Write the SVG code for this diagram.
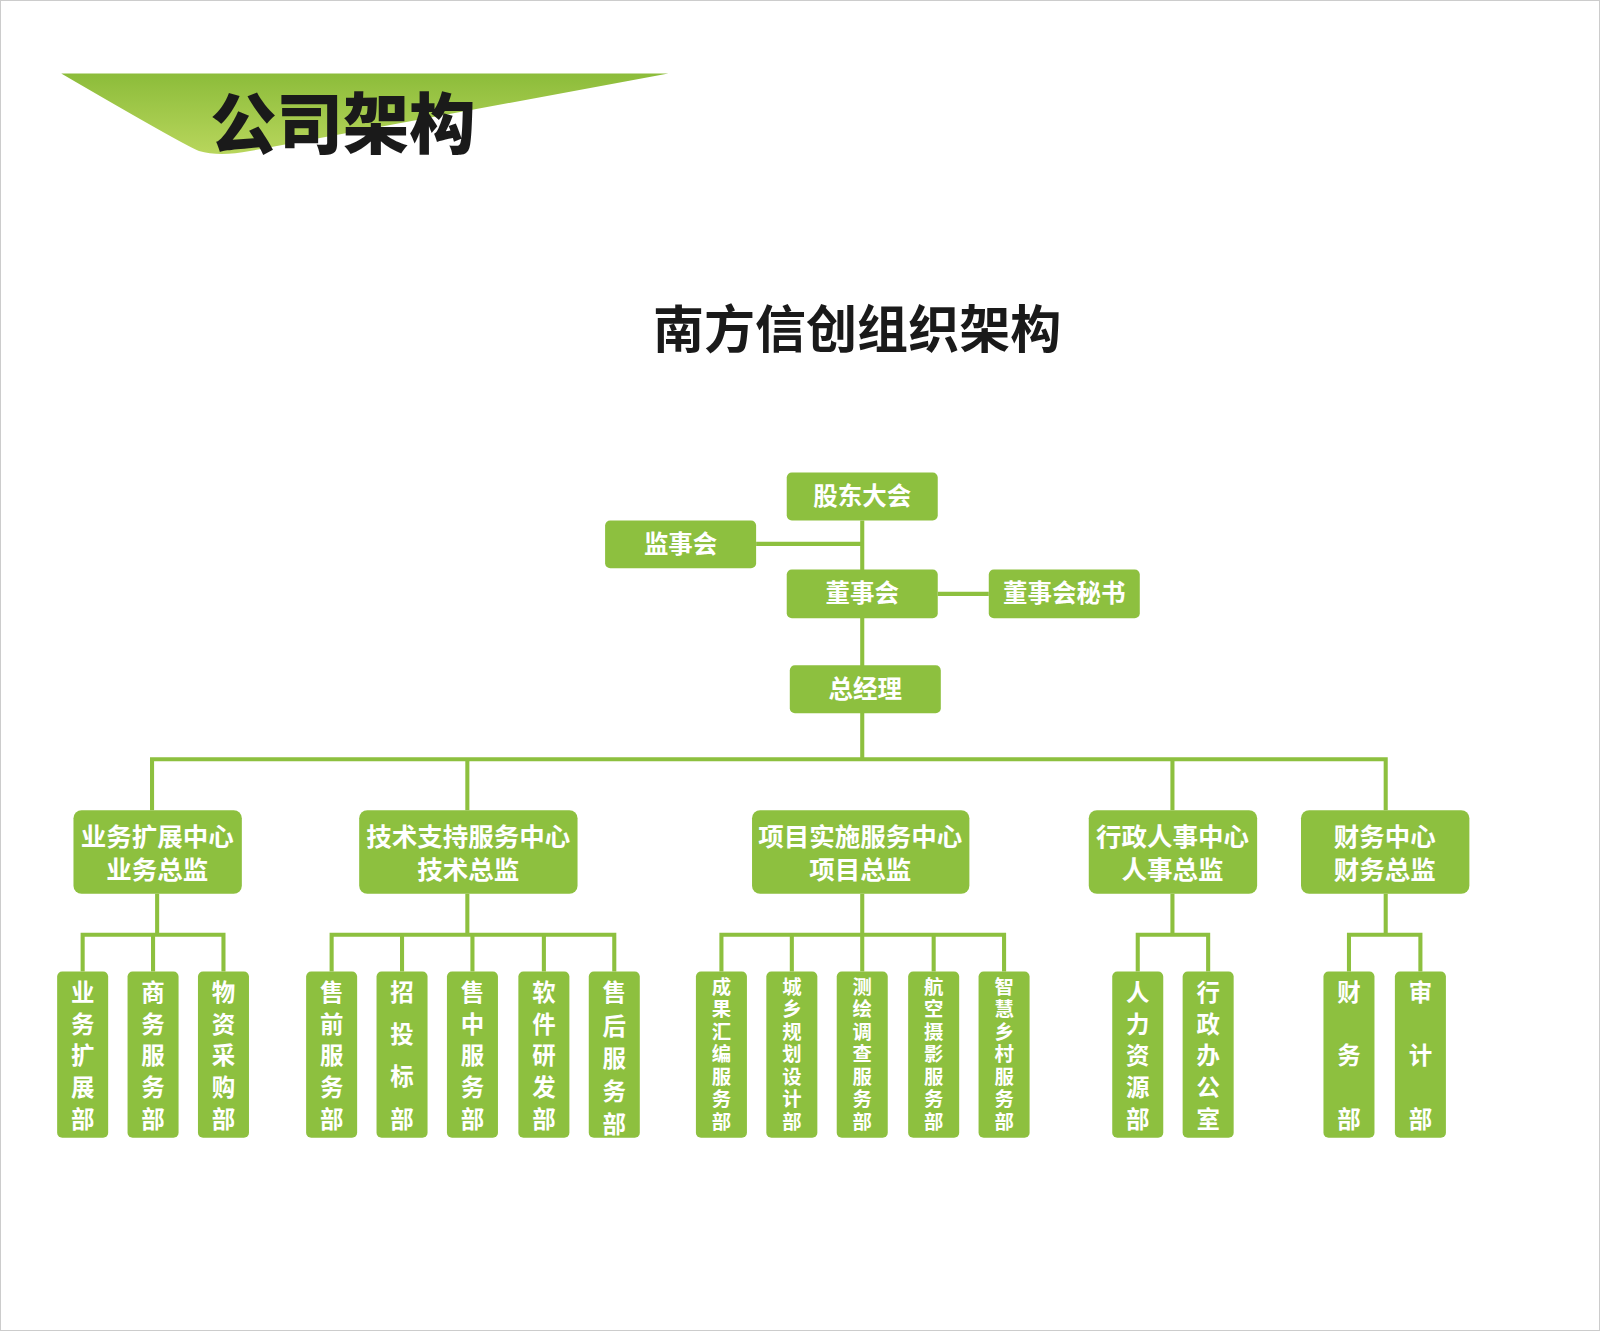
<svg xmlns="http://www.w3.org/2000/svg" width="1600" height="1331" viewBox="0 0 1600 1331">
<defs>
<linearGradient id="hg" x1="0" y1="0" x2="0" y2="1"><stop offset="0" stop-color="#8cbc3a"/><stop offset="1" stop-color="#b8d65c"/></linearGradient>
<style>
.b{fill:#8dc03f}
.l{stroke:#8dc03f;stroke-width:4;fill:none}
.t{font-family:"Noto Sans CJK SC",sans-serif;font-weight:bold;fill:#fff;text-anchor:middle}
.m{font-size:24px}
.w{font-size:25px}
.v{font-size:23px}
.s{font-size:19px}
</style>
</defs>
<rect x="0" y="0" width="1600" height="1331" fill="#fff" stroke="#ccc" stroke-width="2"/>
<g transform="scale(1.0204)">
<g id="header">
<path d="M60,72 L655,72 L245,148 Q215,154 195,148 Q180,142 60,72 Z" fill="url(#hg)"/>
<text x="336" y="145" font-family="Noto Sans CJK SC,sans-serif" font-weight="900" font-size="65" fill="#1a1a1a" text-anchor="middle">公司架构</text>
</g>
<text id="title" x="840" y="341" font-family="Noto Sans CJK SC,sans-serif" font-weight="bold" font-size="50" fill="#1a1a1a" text-anchor="middle">南方信创组织架构</text>
<g id="connectors" class="l">
<path d="M845,510 V744 M741,533 H845 M919,582 H969 M149,794 V744 H1358 V794 M458,744 V794 M1149,744 V794"/>
<path d="M154,876 V916 M81,952 V916 H219 V952 M150,916 V952"/>
<path d="M458,876 V916 M325,952 V916 H602 V952 M394,916 V952 M463,916 V952 M533,916 V952"/>
<path d="M845,876 V916 M707,952 V916 H984 V952 M776,916 V952 M845,916 V952 M915,916 V952"/>
<path d="M1149,876 V916 M1115,952 V916 H1184 V952"/>
<path d="M1358,876 V916 M1322,952 V916 H1392 V952"/>
</g>
<g id="n1"><rect class="b" x="771" y="463" width="148" height="47" rx="5"/><text class="t m" x="845" y="495">股东大会</text></g>
<g id="n2"><rect class="b" x="593" y="510" width="148" height="47" rx="5"/><text class="t m" x="667" y="542">监事会</text></g>
<g id="n3"><rect class="b" x="771" y="558" width="148" height="48" rx="5"/><text class="t m" x="845" y="590">董事会</text></g>
<g id="n4"><rect class="b" x="969" y="558" width="148" height="48" rx="5"/><text class="t m" x="1043" y="590">董事会秘书</text></g>
<g id="n5"><rect class="b" x="774" y="652" width="148" height="47" rx="5"/><text class="t m" x="848" y="684">总经理</text></g>
<g id="c1"><rect class="b" x="72" y="794" width="165" height="82" rx="8"/><text class="t w" x="154" y="829">业务扩展中心</text><text class="t w" x="154" y="861">业务总监</text></g>
<g id="c2"><rect class="b" x="352" y="794" width="214" height="82" rx="8"/><text class="t w" x="459" y="829">技术支持服务中心</text><text class="t w" x="459" y="861">技术总监</text></g>
<g id="c3"><rect class="b" x="737" y="794" width="213" height="82" rx="8"/><text class="t w" x="843" y="829">项目实施服务中心</text><text class="t w" x="843" y="861">项目总监</text></g>
<g id="c4"><rect class="b" x="1067" y="794" width="165" height="82" rx="8"/><text class="t w" x="1149" y="829">行政人事中心</text><text class="t w" x="1149" y="861">人事总监</text></g>
<g id="c5"><rect class="b" x="1275" y="794" width="165" height="82" rx="8"/><text class="t w" x="1357" y="829">财务中心</text><text class="t w" x="1357" y="861">财务总监</text></g>
<g id="l1"><rect class="b" x="56" y="952" width="50" height="163" rx="5"/><text class="t v"><tspan x="81" y="981">业</tspan><tspan x="81" y="1012">务</tspan><tspan x="81" y="1043">扩</tspan><tspan x="81" y="1074">展</tspan><tspan x="81" y="1105">部</tspan></text></g>
<g id="l2"><rect class="b" x="125" y="952" width="50" height="163" rx="5"/><text class="t v"><tspan x="150" y="981">商</tspan><tspan x="150" y="1012">务</tspan><tspan x="150" y="1043">服</tspan><tspan x="150" y="1074">务</tspan><tspan x="150" y="1105">部</tspan></text></g>
<g id="l3"><rect class="b" x="194" y="952" width="50" height="163" rx="5"/><text class="t v"><tspan x="219" y="981">物</tspan><tspan x="219" y="1012">资</tspan><tspan x="219" y="1043">采</tspan><tspan x="219" y="1074">购</tspan><tspan x="219" y="1105">部</tspan></text></g>
<g id="l4"><rect class="b" x="300" y="952" width="50" height="163" rx="5"/><text class="t v"><tspan x="325" y="981">售</tspan><tspan x="325" y="1012">前</tspan><tspan x="325" y="1043">服</tspan><tspan x="325" y="1074">务</tspan><tspan x="325" y="1105">部</tspan></text></g>
<g id="l5"><rect class="b" x="369" y="952" width="50" height="163" rx="5"/><text class="t v"><tspan x="394" y="981">招</tspan><tspan x="394" y="1022">投</tspan><tspan x="394" y="1063">标</tspan><tspan x="394" y="1105">部</tspan></text></g>
<g id="l6"><rect class="b" x="438" y="952" width="50" height="163" rx="5"/><text class="t v"><tspan x="463" y="981">售</tspan><tspan x="463" y="1012">中</tspan><tspan x="463" y="1043">服</tspan><tspan x="463" y="1074">务</tspan><tspan x="463" y="1105">部</tspan></text></g>
<g id="l7"><rect class="b" x="508" y="952" width="50" height="163" rx="5"/><text class="t v"><tspan x="533" y="981">软</tspan><tspan x="533" y="1012">件</tspan><tspan x="533" y="1043">研</tspan><tspan x="533" y="1074">发</tspan><tspan x="533" y="1105">部</tspan></text></g>
<g id="l8"><rect class="b" x="577" y="952" width="50" height="163" rx="5"/><text class="t v"><tspan x="602" y="981">售</tspan><tspan x="602" y="1014">后</tspan><tspan x="602" y="1046">服</tspan><tspan x="602" y="1078">务</tspan><tspan x="602" y="1110">部</tspan></text></g>
<g id="l9"><rect class="b" x="682" y="952" width="50" height="163" rx="5"/><text class="t s"><tspan x="707" y="974">成</tspan><tspan x="707" y="996">果</tspan><tspan x="707" y="1018">汇</tspan><tspan x="707" y="1040">编</tspan><tspan x="707" y="1062">服</tspan><tspan x="707" y="1084">务</tspan><tspan x="707" y="1106">部</tspan></text></g>
<g id="l10"><rect class="b" x="751" y="952" width="50" height="163" rx="5"/><text class="t s"><tspan x="776" y="974">城</tspan><tspan x="776" y="996">乡</tspan><tspan x="776" y="1018">规</tspan><tspan x="776" y="1040">划</tspan><tspan x="776" y="1062">设</tspan><tspan x="776" y="1084">计</tspan><tspan x="776" y="1106">部</tspan></text></g>
<g id="l11"><rect class="b" x="820" y="952" width="50" height="163" rx="5"/><text class="t s"><tspan x="845" y="974">测</tspan><tspan x="845" y="996">绘</tspan><tspan x="845" y="1018">调</tspan><tspan x="845" y="1040">查</tspan><tspan x="845" y="1062">服</tspan><tspan x="845" y="1084">务</tspan><tspan x="845" y="1106">部</tspan></text></g>
<g id="l12"><rect class="b" x="890" y="952" width="50" height="163" rx="5"/><text class="t s"><tspan x="915" y="974">航</tspan><tspan x="915" y="996">空</tspan><tspan x="915" y="1018">摄</tspan><tspan x="915" y="1040">影</tspan><tspan x="915" y="1062">服</tspan><tspan x="915" y="1084">务</tspan><tspan x="915" y="1106">部</tspan></text></g>
<g id="l13"><rect class="b" x="959" y="952" width="50" height="163" rx="5"/><text class="t s"><tspan x="984" y="974">智</tspan><tspan x="984" y="996">慧</tspan><tspan x="984" y="1018">乡</tspan><tspan x="984" y="1040">村</tspan><tspan x="984" y="1062">服</tspan><tspan x="984" y="1084">务</tspan><tspan x="984" y="1106">部</tspan></text></g>
<g id="l14"><rect class="b" x="1090" y="952" width="50" height="163" rx="5"/><text class="t v"><tspan x="1115" y="981">人</tspan><tspan x="1115" y="1012">力</tspan><tspan x="1115" y="1043">资</tspan><tspan x="1115" y="1074">源</tspan><tspan x="1115" y="1105">部</tspan></text></g>
<g id="l15"><rect class="b" x="1159" y="952" width="50" height="163" rx="5"/><text class="t v"><tspan x="1184" y="981">行</tspan><tspan x="1184" y="1012">政</tspan><tspan x="1184" y="1043">办</tspan><tspan x="1184" y="1074">公</tspan><tspan x="1184" y="1105">室</tspan></text></g>
<g id="l16"><rect class="b" x="1297" y="952" width="50" height="163" rx="5"/><text class="t v"><tspan x="1322" y="981">财</tspan><tspan x="1322" y="1043">务</tspan><tspan x="1322" y="1105">部</tspan></text></g>
<g id="l17"><rect class="b" x="1367" y="952" width="50" height="163" rx="5"/><text class="t v"><tspan x="1392" y="981">审</tspan><tspan x="1392" y="1043">计</tspan><tspan x="1392" y="1105">部</tspan></text></g>
</g>
</svg>
